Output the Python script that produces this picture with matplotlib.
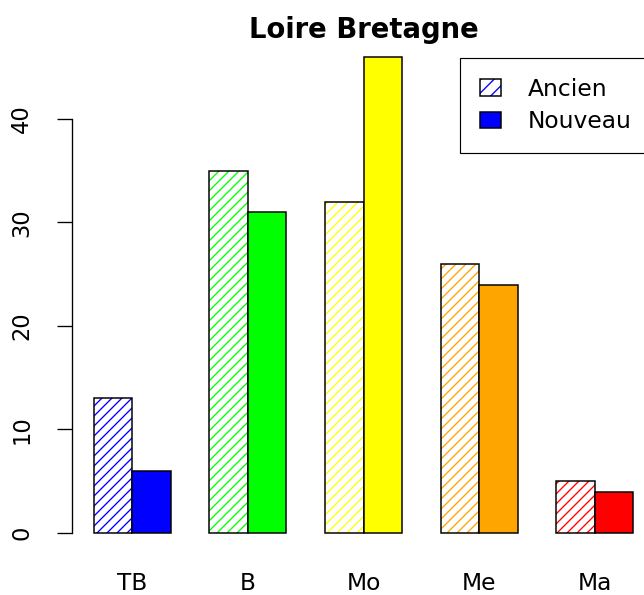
import numpy as np
import matplotlib
matplotlib.use("Agg")
import matplotlib.pyplot as plt
from matplotlib.patches import Patch

# data
categories = ["TB", "B", "Mo", "Me", "Ma"]
ancien = [13, 35, 32, 26, 5]
nouveau = [6, 31, 46, 24, 4]
colors = ["#0000FF", "#00FF00", "#FFFF00", "#FFA500", "#FF0000"]

plt.rcParams['font.family'] = ['DejaVu Sans']
plt.rcParams['hatch.linewidth'] = 0.8

W, H, DPI = 644, 595, 120
fig = plt.figure(figsize=(W / DPI, H / DPI), dpi=DPI)
ax = fig.add_axes([72.4 / W, 43 / H, 582.2 / W, 514.2 / H])

# R-style barplot positions: width 1, one bar gap between groups
idx = np.arange(len(categories))
x_anc = 1 + 3 * idx
x_nou = 2 + 3 * idx

# hatched (old) bars: hatch drawn in bar colour, black outline on top
for x, h, c in zip(x_anc, ancien, colors):
    ax.bar(x, h, width=1, align='edge', color='white', edgecolor=c,
           hatch='////', linewidth=0)
    ax.bar(x, h, width=1, align='edge', fill=False, edgecolor='black',
           linewidth=0.9)
ax.bar(x_nou, nouveau, width=1, align='edge', color=colors,
       edgecolor='black', linewidth=0.9)

ax.set_xlim(0.44, 15.56)
ax.set_ylim(-1.84, 47.84)

for s in ['top', 'right', 'bottom']:
    ax.spines[s].set_visible(False)
ax.spines['left'].set_bounds(0, 40)
ax.spines['left'].set_linewidth(0.8)

ax.set_yticks([0, 10, 20, 30, 40])
ax.tick_params(axis='y', length=9, width=0.8, pad=14.5, labelsize=13.5)
for t in ax.get_yticklabels():
    t.set_rotation(90)
    t.set_va('center')

ax.set_xticks(x_anc + 1)
ax.set_xticklabels(categories)
ax.tick_params(axis='x', length=0, pad=12, labelsize=14)

fig.text(363.5 / W, 1 - 38 / H, "Loire Bretagne", ha='center',
         va='baseline', fontsize=16.5, fontweight='bold')

h_anc = (Patch(facecolor='white', edgecolor='blue', hatch='///', linewidth=0),
         Patch(fill=False, edgecolor='black', linewidth=0.9))
h_nou = Patch(facecolor='blue', edgecolor='black', linewidth=0.9)
leg = fig.legend([h_anc, h_nou], ["Ancien", "Nouveau"],
                 loc='upper left', bbox_to_anchor=(460 / W, 1 - 58 / H),
                 bbox_transform=fig.transFigure, fontsize=14,
                 frameon=True, fancybox=False, framealpha=1,
                 edgecolor='black', borderpad=0.85, labelspacing=0.4,
                 handlelength=0.9, handleheight=0.7, handletextpad=1.15,
                 borderaxespad=0)
leg.get_frame().set_linewidth(0.7)

fig.savefig("out.png", dpi=DPI)
